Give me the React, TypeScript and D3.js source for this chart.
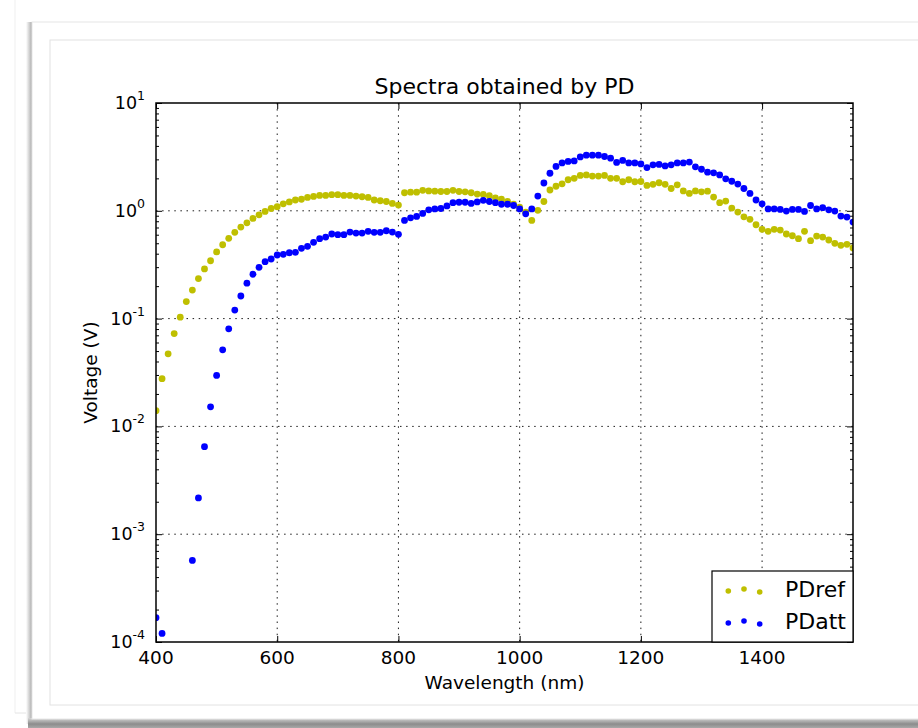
import * as d3 from "d3";
import * as React from "react";

// wavelength samples (nm)
const wavelength = [
  400, 410, 420, 430, 440, 450, 460, 470, 480, 490,
  500, 510, 520, 530, 540, 550, 560, 570, 580, 590,
  600, 610, 620, 630, 640, 650, 660, 670, 680, 690,
  700, 710, 720, 730, 740, 750, 760, 770, 780, 790,
  800, 810, 820, 830, 840, 850, 860, 870, 880, 890,
  900, 910, 920, 930, 940, 950, 960, 970, 980, 990,
  1000, 1010, 1020, 1030, 1040, 1050, 1060, 1070, 1080, 1090,
  1100, 1110, 1120, 1130, 1140, 1150, 1160, 1170, 1180, 1190,
  1200, 1210, 1220, 1230, 1240, 1250, 1260, 1270, 1280, 1290,
  1300, 1310, 1320, 1330, 1340, 1350, 1360, 1370, 1380, 1390,
  1400, 1410, 1420, 1430, 1440, 1450, 1460, 1470, 1480, 1490,
  1500, 1510, 1520, 1530, 1540, 1550,
];

// reference photodiode (V)
const pdRef = [
  0.014, 0.0277, 0.0471, 0.0726, 0.103, 0.144, 0.184, 0.235, 0.289, 0.344,
  0.415, 0.484, 0.555, 0.631, 0.706, 0.774, 0.85, 0.918, 0.987, 1.05,
  1.09, 1.16, 1.21, 1.26, 1.28, 1.33, 1.36, 1.39, 1.39, 1.41,
  1.41, 1.39, 1.39, 1.37, 1.35, 1.33, 1.26, 1.24, 1.22, 1.17,
  1.13, 1.47, 1.49, 1.49, 1.55, 1.53, 1.52, 1.51, 1.51, 1.55,
  1.51, 1.5, 1.47, 1.43, 1.42, 1.38, 1.32, 1.28, 1.22, 1.15,
  1.08, 0.97, 0.815, 1.01, 1.22, 1.56, 1.69, 1.78, 1.94, 2.0,
  2.13, 2.15, 2.1, 2.1, 2.13, 2.0, 2.0, 1.86, 1.94, 1.86,
  1.87, 1.72, 1.76, 1.82, 1.76, 1.61, 1.74, 1.53, 1.45, 1.53,
  1.5, 1.52, 1.34, 1.19, 1.23, 1.06, 0.973, 0.88, 0.833, 0.742,
  0.673, 0.645, 0.673, 0.663, 0.609, 0.587, 0.551, 0.645, 0.528, 0.583,
  0.571, 0.536, 0.499, 0.478, 0.489, 0.452,
];

// attenuated photodiode (V), null = below axis range
const pdAtt = [
  1.68e-4, 1.2e-4, null, null, null, null, 5.71e-4, 2.17e-3, 6.49e-3, 0.0152,
  0.0297, 0.0513, 0.0803, 0.12, 0.162, 0.213, 0.258, 0.299, 0.337, 0.357,
  0.389, 0.395, 0.408, 0.412, 0.449, 0.468, 0.51, 0.551, 0.571, 0.609,
  0.6, 0.6, 0.635, 0.622, 0.622, 0.645, 0.631, 0.631, 0.653, 0.635,
  0.605, 0.815, 0.861, 0.887, 0.946, 1.02, 1.04, 1.05, 1.11, 1.19,
  1.2, 1.2, 1.17, 1.21, 1.25, 1.22, 1.19, 1.15, 1.15, 1.12,
  1.04, 0.938, 1.04, 1.37, 1.81, 2.23, 2.58, 2.78, 2.87, 2.9,
  3.16, 3.28, 3.28, 3.28, 3.19, 3.08, 2.81, 2.93, 2.78, 2.78,
  2.72, 2.52, 2.67, 2.69, 2.61, 2.67, 2.78, 2.78, 2.83, 2.56,
  2.43, 2.28, 2.25, 2.15, 1.98, 1.88, 1.77, 1.61, 1.45, 1.26,
  1.16, 1.04, 1.04, 1.03, 0.994, 1.03, 1.03, 0.987, 1.12, 1.04,
  1.07, 1.02, 0.994, 0.893, 0.874, 0.786,
];

const xTicks = [400, 600, 800, 1000, 1200, 1400];
const yExponents = [-4, -3, -2, -1, 0, 1];
const seriesNames = ["PDref", "PDatt"];
const seriesColors = ["#bfbf00", "#0000ff"];

const width = 918;
const height = 728;
const left = 156;
const right = 853;
const top = 103;
const bottom = 642;
const font = "'DejaVu Sans', sans-serif";

export default function App() {
  const x = d3.scaleLinear().domain([400, 1550]).range([left, right]);
  const y = d3.scaleLog().domain([1e-4, 10]).range([bottom, top]);

  const majors = yExponents.map((e) => Math.pow(10, e));
  const minors = y.ticks().filter((v) => {
    const l = Math.log10(v);
    return Math.abs(l - Math.round(l)) > 1e-6;
  });

  const styleAxis = (g: SVGGElement | null, axis: any) => {
    if (!g) return;
    const s = d3.select(g);
    s.call(axis);
    s.select(".domain").remove();
    s.selectAll(".tick line").attr("stroke", "#000").attr("stroke-width", 1);
    s.selectAll(".tick text").remove();
  };

  const series = [pdRef, pdAtt];
  const dots = series.map((vals, si) =>
    vals.map((v, i) =>
      v == null ? null : (
        <circle key={"d" + si + "_" + i} cx={x(wavelength[i])} cy={y(v)} r={3.4} fill={seriesColors[si]} />
      )
    )
  );

  // legend layout
  const legX0 = 712;
  const legY0 = 571;
  const legHandleX = [728.3, 744, 759.7];
  const legOffsets = [0.375, 0.5, 0.3125];
  const legRowBase = [597, 629];

  return (
    <div style={{ position: "absolute", left: 0, top: 0 }}>
      <svg width={width} height={height} style={{ display: "block", background: "#fff" }}>
        <defs>
          <linearGradient id="shadowL" x1="0" x2="1" y1="0" y2="0">
            <stop offset="0" stopColor="#ffffff" />
            <stop offset="1" stopColor="#9c9c9c" />
          </linearGradient>
          <linearGradient id="shadowB" x1="0" x2="0" y1="0" y2="1">
            <stop offset="0" stopColor="#d6d6d6" />
            <stop offset="0.6" stopColor="#8c8c8c" />
            <stop offset="1" stopColor="#a8a8a8" />
          </linearGradient>
          <clipPath id="plotClip">
            <rect x={left} y={top} width={right - left} height={bottom - top} />
          </clipPath>
        </defs>

        {/* window frame */}
        <line x1={15} y1={0} x2={15} y2={713} stroke="#efefef" />
        <line x1={15} y1={713} x2={32} y2={713} stroke="#e4e4e4" />
        <rect x={26} y={22} width={7} height={702} fill="url(#shadowL)" />
        <rect x={28} y={718} width={900} height={10} fill="url(#shadowB)" />
        <rect x={32} y={22} width={900} height={697} fill="#fff" stroke="#e6e6e6" />
        <rect x={50} y={40} width={880} height={665} fill="#fff" stroke="#e2e2e2" />

        {/* grid */}
        <g stroke="#000" strokeWidth={0.9} strokeDasharray="1.5,4.6">
          {xTicks.filter((t) => t > 400).map((t) => (
            <line key={"gx" + t} x1={x(t)} x2={x(t)} y1={top} y2={bottom} />
          ))}
          {majors.slice(1, -1).map((t) => (
            <line key={"gy" + t} x1={left} x2={right} y1={y(t)} y2={y(t)} />
          ))}
        </g>

        {/* ticks */}
        <g transform={"translate(0," + bottom + ")"} ref={(g) => { styleAxis(g, d3.axisBottom(x).tickValues(xTicks).tickSize(-6)); }} />
        <g transform={"translate(0," + top + ")"} ref={(g) => { styleAxis(g, d3.axisTop(x).tickValues(xTicks).tickSize(-6)); }} />
        <g transform={"translate(" + left + ",0)"} ref={(g) => { styleAxis(g, d3.axisLeft(y).tickValues(majors).tickSize(-6)); }} />
        <g transform={"translate(" + left + ",0)"} ref={(g) => { styleAxis(g, d3.axisLeft(y).tickValues(minors).tickSize(-3)); }} />
        <g transform={"translate(" + right + ",0)"} ref={(g) => { styleAxis(g, d3.axisRight(y).tickValues(majors).tickSize(-6)); }} />
        <g transform={"translate(" + right + ",0)"} ref={(g) => { styleAxis(g, d3.axisRight(y).tickValues(minors).tickSize(-3)); }} />

        {/* data */}
        <g clipPath="url(#plotClip)">
          {dots[0]}
          {dots[1]}
        </g>

        {/* spines */}
        <rect x={left} y={top} width={right - left} height={bottom - top} fill="none" stroke="#000" strokeWidth={1.5} />

        {/* tick labels */}
        <g fontFamily={font} fill="#000">
          {xTicks.map((t) => (
            <text key={"xl" + t} x={x(t)} y={bottom + 21.5} fontSize={18.5} textAnchor="middle">
              {t}
            </text>
          ))}
          {yExponents.map((e) => (
            <text key={"yl" + e} x={145} y={y(Math.pow(10, e)) + 6} fontSize={17.5} textAnchor="end">
              <tspan>10</tspan>
              <tspan dy={-9} fontSize={12.5}>{String(e)}</tspan>
            </text>
          ))}
        </g>

        {/* titles */}
        <text x={(left + right) / 2} y={94} fontFamily={font} fontSize={22} textAnchor="middle">
          Spectra obtained by PD
        </text>
        <text x={(left + right) / 2} y={689} fontFamily={font} fontSize={18.5} textAnchor="middle">
          Wavelength (nm)
        </text>
        <text transform={"translate(96.5," + (top + bottom) / 2 + ") rotate(-90)"} fontFamily={font} fontSize={18.5} textAnchor="middle">
          Voltage (V)
        </text>

        {/* legend */}
        <rect x={legX0} y={legY0} width={right - legX0} height={bottom - legY0} fill="#fff" stroke="#000" strokeWidth={1.2} />
        {seriesNames.map((name, si) => (
          <g key={"leg" + si}>
            {legHandleX.map((hx, j) => (
              <circle key={"lh" + j} cx={hx} cy={legRowBase[si] - legOffsets[j] * 16} r={2.8} fill={seriesColors[si]} />
            ))}
            <text x={785} y={legRowBase[si]} fontFamily={font} fontSize={22}>
              {name}
            </text>
          </g>
        ))}
      </svg>
    </div>
  );
}
